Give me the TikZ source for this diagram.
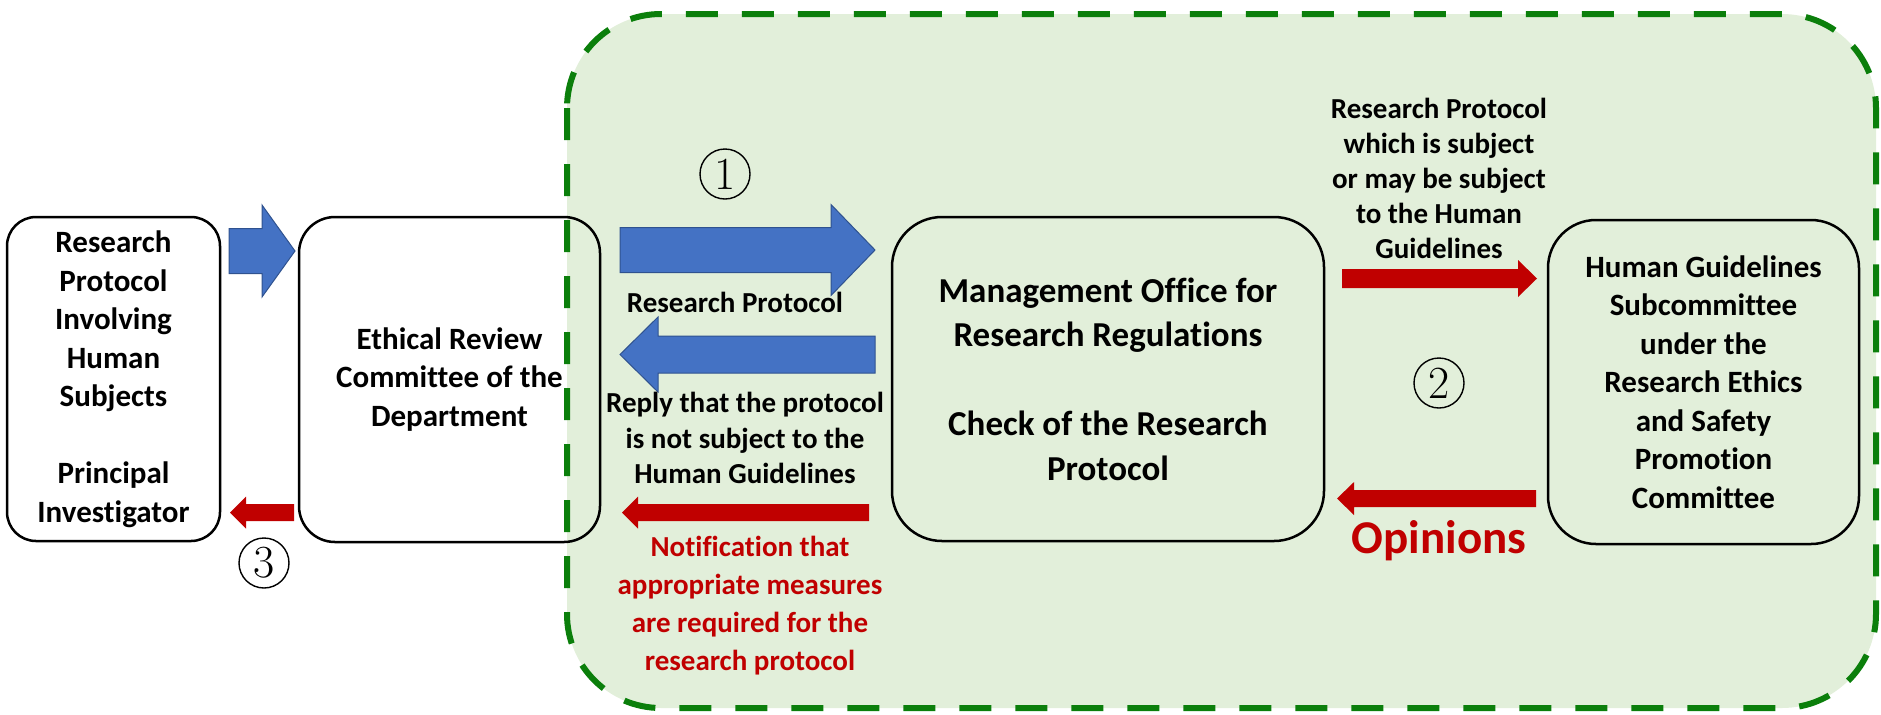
\documentclass[tikz,border=0pt]{standalone}
\usepackage{fontspec}
\newfontfamily\calibri[Ligatures=NoCommon]{Carlito}
\definecolor{zoneFill}{HTML}{E2EFDA}
\definecolor{zoneLine}{HTML}{0B7F0B}
\definecolor{flowBlue}{HTML}{4472C4}
\definecolor{flowBlueEdge}{HTML}{2F528F}
\definecolor{flowRed}{HTML}{C00000}
\begin{document}
\begin{tikzpicture}[x=0.5pt,y=-0.5pt,
  box/.style={draw,line width=1.25pt,align=center,inner sep=0pt,
    font=\calibri\bfseries\fontsize{15.5}{19.25}\selectfont},
  lbl/.style={align=center,inner sep=0pt,
    font=\calibri\bfseries\fontsize{14.5}{17.6}\selectfont},
  stepnum/.style={circle,draw,line width=0.7pt,minimum size=25pt,inner sep=0pt,
    font=\fontsize{23}{23}\selectfont},
  bluearr/.style={fill=flowBlue,draw=flowBlueEdge,line width=0.5pt},
  redarr/.style={fill=flowRed}]
\useasboundingbox (0,0) rectangle (1881,714);
% review zone
\draw[zoneLine,fill=zoneFill,line width=3pt,dash pattern=on 16pt off 12pt,
  rounded corners=47pt] (567,14) rectangle (1876,708);

\node[box,minimum width=106.5pt,minimum height=162pt,rounded corners=14.5pt]
  (investigator) at (113.5,379)
  {Research\\Protocol\\Involving\\Human\\Subjects\\[19.25pt]Principal\\Investigator};
\node[box,minimum width=150.5pt,minimum height=162.5pt,rounded corners=18pt]
  (ethics) at (449.5,379.5) {Ethical Review\\Committee of the\\Department};
\node[box,minimum width=216pt,minimum height=162pt,rounded corners=25pt,
  font=\calibri\bfseries\fontsize{17.5}{22.25}\selectfont]
  (office) at (1108,379)
  {Management Office for\\Research Regulations\\[22.25pt]Check of the Research\\Protocol};
\node[box,minimum width=155.5pt,minimum height=162pt,rounded corners=24pt]
  (subcommittee) at (1703.5,382)
  {Human Guidelines\\Subcommittee\\under the\\Research Ethics\\and Safety\\Promotion\\Committee};

% block arrows: tail / head base / tip / centre / half body / half head
\foreach \ta/\hb/\tp/\cy/\bw/\hw in {229/262/295/251/22.5/46,
    620/831/875/250/22.5/45.5, 875/658/620/354.5/18.5/37.5}
  \draw[bluearr] (\ta,{\cy-\bw}) -- (\hb,{\cy-\bw}) -- (\hb,{\cy-\hw}) -- (\tp,\cy)
    -- (\hb,{\cy+\hw}) -- (\hb,{\cy+\bw}) -- (\ta,{\cy+\bw}) -- cycle;
\foreach \ta/\hb/\tp/\cy/\bw/\hw in {869/638/622/512.5/8.5/16,
    294/246/230/512.5/8.5/16, 1342/1518/1537/278.5/9.5/18.5,
    1536/1354/1337/498.5/8.5/16.5}
  \fill[redarr] (\ta,{\cy-\bw}) -- (\hb,{\cy-\bw}) -- (\hb,{\cy-\hw}) -- (\tp,\cy)
    -- (\hb,{\cy+\hw}) -- (\hb,{\cy+\bw}) -- (\ta,{\cy+\bw}) -- cycle;

\node[lbl] (toSubLbl) at (1439,178.5)
  {Research Protocol\\which is subject\\or may be subject\\to the Human\\Guidelines};
\node[lbl] (protoLbl) at (735,302) {Research Protocol};
\node[lbl] (replyLbl) at (745,438)
  {Reply that the protocol\\is not subject to the\\Human Guidelines};
\node[lbl,text=flowRed,font=\calibri\bfseries\fontsize{14.5}{19}\selectfont]
  (measuresLbl) at (750,605.5)
  {Notification that\\appropriate measures\\are required for the\\research protocol};
\node[anchor=base,inner sep=0pt,text=flowRed,
  font=\calibri\bfseries\fontsize{23.5}{28}\selectfont] (opinionsLbl) at (1439,553) {Opinions};

\node[stepnum] (stepOne) at (725,174) {1};
\node[stepnum] (stepTwo) at (1439,383) {2};
\node[stepnum] (stepThree) at (264,563) {3};
\end{tikzpicture}
\end{document}
